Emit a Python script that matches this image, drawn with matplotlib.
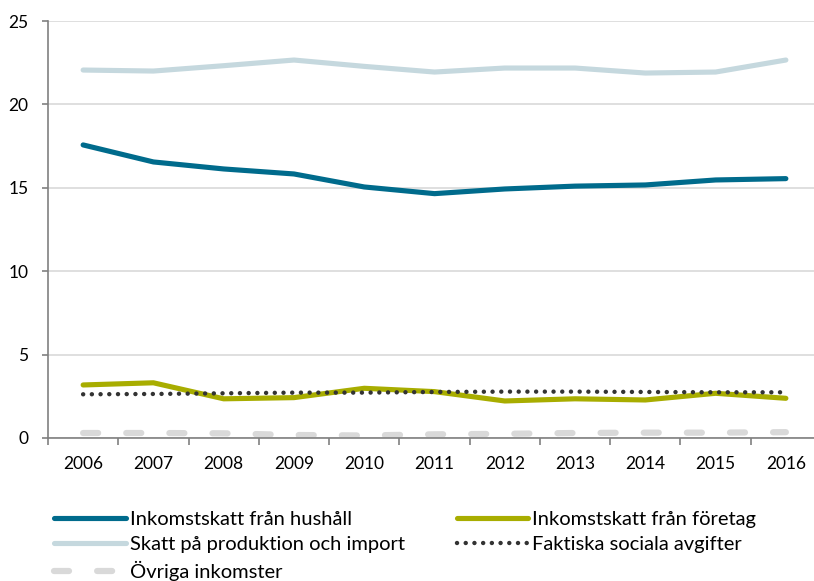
import numpy as np
import matplotlib.pyplot as plt
from matplotlib.ticker import FixedLocator

plt.rcParams['font.family'] = ['Lato', 'DejaVu Sans']

years = ['2006', '2007', '2008', '2009', '2010', '2011', '2012', '2013', '2014', '2015', '2016']
hushall = [17.57, 16.55, 16.13, 15.83, 15.05, 14.65, 14.93, 15.10, 15.17, 15.47, 15.55]
foretag = [3.18, 3.31, 2.35, 2.42, 2.98, 2.78, 2.22, 2.35, 2.28, 2.68, 2.38]
produktion = [22.06, 22.00, 22.32, 22.66, 22.28, 21.94, 22.18, 22.18, 21.88, 21.94, 22.66]
sociala = [2.62, 2.64, 2.68, 2.72, 2.72, 2.76, 2.78, 2.78, 2.76, 2.74, 2.74]
ovriga = [0.30, 0.30, 0.28, 0.18, 0.15, 0.22, 0.25, 0.30, 0.32, 0.32, 0.35]

labels = ['Inkomstskatt från hushåll', 'Inkomstskatt från företag',
          'Skatt på produktion och import', 'Faktiska sociala avgifter',
          'Övriga inkomster']

fig = plt.figure(figsize=(8.14, 5.81), dpi=100)
ax = fig.add_axes([48/814, 1-438/581, (821-48)/814, (438-21)/581])

x = np.arange(len(years))
l_hus, = ax.plot(x, hushall, color='#006B8C', lw=3.7, solid_capstyle='round', zorder=5)
l_for, = ax.plot(x, foretag, color='#A8AD00', lw=3.7, solid_capstyle='round', zorder=4)
l_pro, = ax.plot(x, produktion, color='#C5D8DE', lw=3.7, solid_capstyle='round', zorder=3)
l_soc, = ax.plot(x, sociala, color='#333333', lw=3.2, linestyle=(0, (0.01, 1.95)),
                 dash_capstyle='round', zorder=6)
l_ovr, = ax.plot(x, ovriga, color='#D9D9D9', lw=4.5, linestyle=(0, (2.4, 4.5)),
                 dash_capstyle='round', zorder=2)

ax.set_xlim(-0.5, 10.5)
ax.set_ylim(0, 25)
ax.set_yticks([0, 5, 10, 15, 20, 25])
ax.grid(axis='y', color='#D9D9D9', lw=1.2)
ax.set_axisbelow(True)

ax.set_xticks(x)
ax.set_xticklabels(years)
ax.xaxis.set_minor_locator(FixedLocator(np.arange(-0.5, 11, 1)))
ax.tick_params(axis='x', which='major', length=0, pad=13, labelsize=12.5, colors='black')
ax.tick_params(axis='x', which='minor', length=5, color='#808080', width=1.2)
ax.tick_params(axis='y', length=4, color='#808080', width=1.2, pad=10, labelsize=12.5)

for s in ['top', 'right']:
    ax.spines[s].set_visible(False)
for s in ['left', 'bottom']:
    ax.spines[s].set_color('#808080')
    ax.spines[s].set_linewidth(1.2)

fig.legend([l_hus, l_pro, l_ovr, l_for, l_soc],
           [labels[0], labels[2], labels[4], labels[1], labels[3]],
           ncol=2, frameon=False, loc='upper left', bbox_to_anchor=(46/814, 1-503/581),
           fontsize=14.5, handlelength=3.55, handletextpad=0.2, columnspacing=2.6,
           labelspacing=0.38, borderaxespad=0)

fig.savefig('out.png', dpi=100)
